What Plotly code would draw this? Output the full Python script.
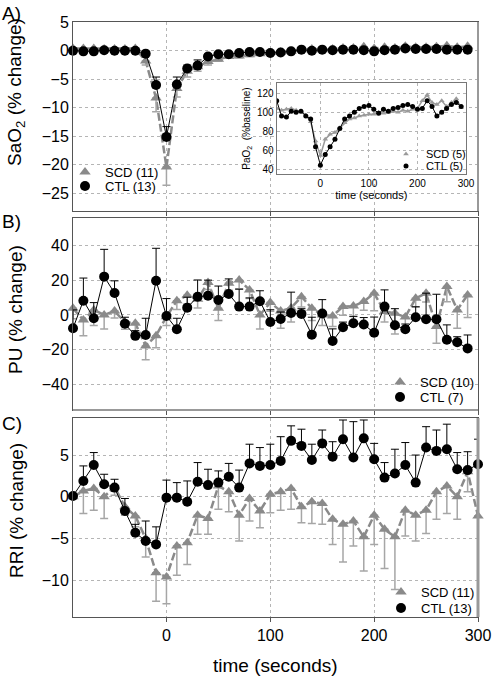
import plotly.graph_objects as go

# ---------------- data ----------------
t_ab = list(range(-90, 300, 10))   # -90 .. 290
t_c = list(range(-90, 310, 10))    # -90 .. 300

# Panel A: SaO2 (% change)
sao2_ctl = [0, -0.1, -0.1, 0.1, 0, 0, 0, -0.5, -6.0, -15.1, -5.9, -3.1, -2.6, -1.0, -0.6, -0.6,
            -0.4, -0.2, -0.2, -0.4, -0.3, -0.1, 0.2, 0, 0.2, 0.1, 0.2, 0.2, 0.1, -0.1, 0.1, 0.2,
            0.4, 0.3, 0.3, 0.3, 0.2, 0.2, 0.2]
sao2_ctl_err = [0.2, 0.2, 0.2, 0.2, 0.2, 0.2, 0.2, 0.3, 1.4, 1.8, 1.3, 0.6, 1.0, 0.4, 0.2, 0.2,
                0.2, 0.2, 0.2, 0.2, 0.2, 0.2, 0.2, 0.2, 0.2, 0.2, 0.2, 0.2, 0.2, 0.2, 0.2, 0.2,
                0.2, 0.2, 0.2, 0.2, 0.2, 0.2, 0.2]
sao2_scd = [0.4, 0.4, 0.4, 0.3, 0.3, 0.3, 0.4, -1.8, -8.3, -20.4, -6.6, -3.6, -2.8, -1.9, -1.5, -1.0,
            -0.9, -0.7, -0.5, -0.3, -0.2, -0.1, 0.2, 0.3, 0.2, 0.3, 0.5, 0.5, 0.7, 0.4, 0.6, 0.5,
            0.8, 0.6, 0.6, 0.7, 0.9, 0.6, 0.8]
sao2_scd_err = [0.3, 0.3, 0.3, 0.3, 0.3, 0.3, 0.3, 0.7, 2.4, 3.2, 1.5, 1.0, 0.8, 0.6, 0.3, 0.3,
                0.3, 0.3, 0.3, 0.3, 0.3, 0.3, 0.3, 0.3, 0.3, 0.3, 0.3, 0.3, 0.3, 0.3, 0.3, 0.3,
                0.3, 0.3, 0.3, 0.3, 0.3, 0.3, 0.3]

# Inset: PaO2 (% baseline)
pao2_ctl = [112, 96, 95, 101, 100, 101, 96, 93, 64, 45, 56, 64, 72, 83, 93, 96, 100, 104, 106, 107,
            103, 99, 103, 101, 104, 105, 107, 108, 106, 103, 104, 112, 106, 96, 100, 104, 108, 110, 106]
pao2_scd = [104, 102, 103, 104, 102, 101, 97, 90, 70, 55, 72, 77, 79, 84, 89, 93, 94, 96, 97, 98,
            98, 100, 99, 100, 101, 100, 102, 101, 103, 104, 112, 118, 110, 108, 112, 106, 110, 114, 105]

# Panel B: PU (% change)
pu_ctl = [-7.6, 8.2, -1.9, 22.0, 12.6, -5.0, -12.0, -11.5, 19.7, -0.6, -8.2, 4.2, 10.5, 11.0, 8.6,
          12.0, 4.8, 4.8, 7.9, -4.0, -2.3, 1.1, 0.6, -11.3, 0.8, -15.0, -7.1, -4.8, -5.5, -10.2,
          4.8, -5.9, -8.2, -1.3, -2.5, -2.5, -14.2, -15.7, -19.2]
pu_ctl_err = [10.5, 13, 9, 15.7, 7, 3.7, 3, 9.6, 18.6, 10, 6.3, 6, 9.6, 9, 8, 8.7, 10, 5, 6, 7,
              4, 12, 3, 10, 8, 7, 3, 4, 4, 9, 9.6, 9.5, 3, 6, 15, 14.4, 8.5, 3.2, 7.7]
pu_scd = [3.8, -2.9, 2.9, 0.0, 2.3, -4.2, -4.8, -17.8, -11.9, -1.0, 8.2, 11.3, 9.0, 18.6, 3.8,
          18.2, 20.1, 14.4, 0.0, 7.1, 2.3, 4.0, 10.5, 3.8, 0.0, -0.6, 4.8, 5.1, 7.7, 12.4,
          2.0, 1.0, -1.2, 9.6, 12.4, -6.7, 16.3, 2.9, 11.5]
pu_scd_err = [6, 9, 9, 8, 4, 4, 5, 8, 7, 5, 5, 5, 5, 4, 7, 4, 5, 5, 8, 5,
              10, 8, 6, 7, 6, 6, 5, 6, 5, 10, 6, 12, 8, 5, 5, 9.6, 8.7, 10.6, 13]

# Panel C: RRI (% change)
rri_ctl = [0.1, 1.9, 3.8, 1.5, 1.1, -1.7, -4.3, -5.3, -5.7, -0.1, -0.1, -0.6, 1.8, 1.4, 1.7, 2.4,
           1.1, 4.0, 3.7, 3.8, 4.3, 6.7, 6.1, 4.4, 6.4, 4.8, 6.9, 4.7, 7.0, 4.5, 2.3, 2.8, 3.8,
           1.7, 5.9, 5.5, 5.7, 3.3, 3.2, 3.9]
rri_ctl_err = [0, 1.8, 1.5, 1.2, 1.0, 1.5, 1.0, 2.4, 2.1, 2.1, 1.8, 2.5, 2.3, 1.9, 1.4, 1.6,
               2.1, 2.3, 2.2, 2.5, 2.9, 1.8, 2.0, 1.9, 1.6, 1.8, 2.3, 4.3, 2.2, 1.9, 1.8, 2.9,
               2.7, 3.3, 2.5, 2.5, 3.0, 2.0, 2.2, 3.0]
rri_scd = [0.0, 0.7, 1.0, 0.0, 1.2, -1.2, -2.3, -5.0, -9.1, -9.6, -5.9, -5.5, -2.2, -2.6, 1.3, 0.6,
           -2.2, -0.2, -1.7, 0.3, 0.6, 1.0, -1.2, -0.6, -0.8, -2.7, -3.3, -2.9, -4.8, -2.2, -3.9,
           -4.8, -1.6, -2.2, -1.6, 0.6, 1.3, 0.0, 3.0, -2.3]
rri_scd_err = [0, 2.7, 2.6, 2.6, 1.0, 1.0, 1.3, 2.2, 3.4, 3.2, 3.5, 2.6, 2.3, 1.9, 2.8, 2.4,
               3.1, 2.7, 2.0, 2.2, 2.2, 2.5, 1.9, 2.6, 2.5, 3.0, 4.5, 3.0, 4.1, 3.5, 4.7, 6.3,
               3.1, 3.1, 2.8, 3.3, 3.3, 2.7, 2.4, 0]

legend_names = {
    "A": ("SCD (11)", "CTL (13)"),
    "B": ("SCD (10)", "CTL (7)"),
    "C": ("SCD (11)", "CTL (13)"),
    "I": ("SCD (5)", "CTL (5)"),
}

# ---------------- styling ----------------
FONT = "Liberation Sans, Arial, sans-serif"
GRAY = "#8a8a8a"
EGRAY = "#a6a6a6"
W, H = 492, 680


def px_x(p):
    return p / W


def px_y(p):
    return 1 - p / H


fig = go.Figure()


def add_group(t, scd, scd_err, ctl, ctl_err, xa, ya, legs, names):
    fig.add_trace(go.Scatter(x=t, y=scd, mode="lines", xaxis=xa, yaxis=ya,
                             line=dict(color=GRAY, width=2.5, dash="8px,3px"),
                             showlegend=False, hoverinfo="skip"))
    fig.add_trace(go.Scatter(x=t, y=scd, mode="markers", xaxis=xa, yaxis=ya, name=names[0],
                             legend=legs[0], cliponaxis=False,
                             marker=dict(symbol="triangle-up", size=10, color=GRAY),
                             error_y=dict(type="data", array=[0] * len(t), arrayminus=scd_err,
                                          symmetric=False, color=EGRAY, thickness=1.5, width=4)))
    fig.add_trace(go.Scatter(x=t, y=ctl, mode="lines", xaxis=xa, yaxis=ya,
                             line=dict(color="black", width=1),
                             showlegend=False, hoverinfo="skip"))
    fig.add_trace(go.Scatter(x=t, y=ctl, mode="markers", xaxis=xa, yaxis=ya, name=names[1],
                             legend=legs[1], cliponaxis=False,
                             marker=dict(symbol="circle", size=10, color="black"),
                             error_y=dict(type="data", array=ctl_err, arrayminus=[0] * len(t),
                                          symmetric=False, color="black", thickness=1, width=4)))


add_group(t_ab, sao2_scd, sao2_scd_err, sao2_ctl, sao2_ctl_err, "x", "y",
          ("legend", "legend2"), legend_names["A"])
add_group(t_ab, pu_scd, pu_scd_err, pu_ctl, pu_ctl_err, "x2", "y2",
          ("legend3", "legend4"), legend_names["B"])
add_group(t_c, rri_scd, rri_scd_err, rri_ctl, rri_ctl_err, "x3", "y3",
          ("legend5", "legend6"), legend_names["C"])

# inset
fig.add_trace(go.Scatter(x=t_ab, y=pao2_scd, mode="lines", xaxis="x4", yaxis="y4",
                         line=dict(color="#9a9a9a", width=1.5), showlegend=False))
fig.add_trace(go.Scatter(x=t_ab, y=pao2_scd, mode="markers", xaxis="x4", yaxis="y4",
                         name=legend_names["I"][0], legend="legend7",
                         marker=dict(symbol="triangle-up", size=5, color="#9a9a9a")))
fig.add_trace(go.Scatter(x=t_ab, y=pao2_ctl, mode="lines", xaxis="x4", yaxis="y4",
                         line=dict(color="black", width=1), showlegend=False))
fig.add_trace(go.Scatter(x=t_ab, y=pao2_ctl, mode="markers", xaxis="x4", yaxis="y4",
                         name=legend_names["I"][1], legend="legend8",
                         marker=dict(symbol="circle", size=5, color="black")))

axis_common = dict(showline=True, linecolor="#555", linewidth=1, mirror=True,
                   showgrid=True, gridcolor="#b5b5b5", griddash="dot", gridwidth=1,
                   zeroline=False, tickfont=dict(family=FONT, size=16, color="black"))

xdom = [px_x(73), px_x(478)]
xax = dict(axis_common, range=[-90, 300], tickvals=[0, 100, 200, 300], ticks="outside",
           ticklen=4, tickcolor="#555", domain=xdom)

layout = dict(
    width=W, height=H, margin=dict(l=0, r=0, t=0, b=0, autoexpand=False),
    paper_bgcolor="white", plot_bgcolor="white",
    font=dict(family=FONT, color="black"),
    xaxis=dict(xax, anchor="y", showticklabels=False),
    yaxis=dict(axis_common, anchor="x", range=[-28.1, 5.05], tickvals=[5, 0, -5, -10, -15, -20, -25],
               domain=[px_y(211), px_y(22)], ticks=""),
    xaxis2=dict(xax, anchor="y2", showticklabels=False),
    yaxis2=dict(axis_common, anchor="x2", range=[-54.6, 55.7], tickvals=[40, 20, 0, -20, -40],
                domain=[px_y(410), px_y(218)], ticks=""),
    xaxis3=dict(xax, anchor="y3", showticklabels=True),
    yaxis3=dict(axis_common, anchor="x3", range=[-14.4, 9.44], tickvals=[5, 0, -5, -10],
                domain=[px_y(617), px_y(418)], ticks=""),
    xaxis4=dict(axis_common, anchor="y4", range=[-90, 300], tickvals=[0, 100, 200, 300],
                linecolor="#777",
                domain=[px_x(276.7), px_x(466)], ticks="", tickfont=dict(family=FONT, size=10),
                title=dict(text="time (seconds)", font=dict(family=FONT, size=11), standoff=0)),
    yaxis4=dict(axis_common, anchor="x4", range=[35.8, 130.4], tickvals=[120, 100, 80, 60, 40],
                linecolor="#777",
                domain=[px_y(174), px_y(83)], ticks="", tickfont=dict(family=FONT, size=10),
                title=dict(text="PaO<sub>2</sub>  (%baseline)", font=dict(family=FONT, size=10),
                           standoff=4)),
)

leg_common = dict(bgcolor="rgba(0,0,0,0)", borderwidth=0, xanchor="left", yanchor="middle",
                  itemwidth=30)
leg_pos = [("legend", 85, 172, 13), ("legend2", 85, 186, 13),
           ("legend3", 400, 382, 13), ("legend4", 400, 397, 13),
           ("legend5", 401, 592, 13), ("legend6", 401, 608, 13),
           ("legend7", 406, 154, 11), ("legend8", 406, 166, 11)]
for lid, sx, sy, fs in leg_pos:
    layout[lid] = dict(leg_common, x=px_x(sx - 20), y=px_y(sy), font=dict(family=FONT, size=fs))

annotations = []
for txt, yc in [("SaO<sub>2</sub> (% change)", 92), ("PU (% change)", 310), ("RRI (% change)", 511)]:
    annotations.append(dict(text=txt, x=px_x(16), y=px_y(yc), xref="paper", yref="paper",
                            textangle=-90, showarrow=False, font=dict(family=FONT, size=19),
                            xanchor="center", yanchor="middle"))
for txt, yc in [("A)", 13), ("B)", 222), ("C)", 423)]:
    annotations.append(dict(text=txt, x=0, y=px_y(yc), xref="paper", yref="paper",
                            showarrow=False, font=dict(family=FONT, size=19),
                            xanchor="left", yanchor="middle"))
annotations.append(dict(text="time (seconds)", x=px_x(275), y=px_y(665), xref="paper", yref="paper",
                        showarrow=False, font=dict(family=FONT, size=19),
                        xanchor="center", yanchor="middle"))
layout["annotations"] = annotations

# heavier grey frame edges as in the original
layout["shapes"] = [
    dict(type="line", xref="paper", yref="paper", x0=px_x(478), x1=px_x(478),
         y0=px_y(211), y1=px_y(22), line=dict(color="#999", width=2)),
    dict(type="line", xref="paper", yref="paper", x0=px_x(73), x1=px_x(478),
         y0=px_y(410), y1=px_y(410), line=dict(color="#999", width=2)),
    dict(type="line", xref="paper", yref="paper", x0=px_x(478), x1=px_x(478),
         y0=px_y(617), y1=px_y(418), line=dict(color="#999", width=3)),
]

fig.update_layout(**layout)
fig.write_html("out.html", config={"displayModeBar": False},
               post_script="document.body.style.margin='0';")
